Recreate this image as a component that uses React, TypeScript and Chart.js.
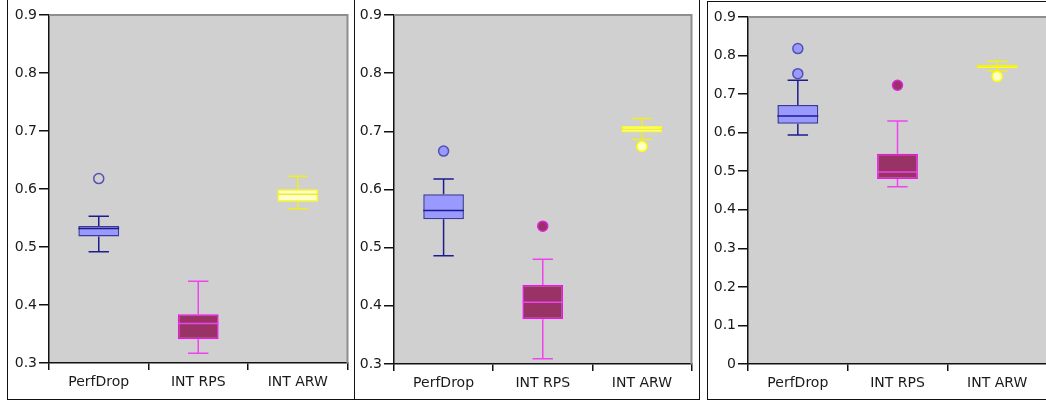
import React, { useEffect, useRef } from 'react';
import { Chart, registerables } from 'chart.js';

Chart.register(...registerables);

// ---------- data ----------
const categories = ['PerfDrop', 'INT RPS', 'INT ARW'];

// panel 1
const p1Min = [0.492, 0.317, 0.566];
const p1Q1 = [0.518, 0.341, 0.578];
const p1Median = [0.532, 0.368, 0.591];
const p1Q3 = [0.536, 0.384, 0.5995];
const p1Max = [0.553, 0.441, 0.622];
const p1Outliers = [[0.618], [], []];

// panel 2
const p2Min = [0.486, 0.309, 0.686];
const p2Q1 = [0.549, 0.377, 0.698];
const p2Median = [0.564, 0.406, 0.7035];
const p2Q3 = [0.592, 0.436, 0.709];
const p2Max = [0.618, 0.48, 0.722];
const p2Outliers = [[0.666], [0.537], [0.674]];

// panel 3
const p3Min = [0.594, 0.46, 0.76];
const p3Q1 = [0.623, 0.48, 0.768];
const p3Median = [0.643, 0.498, 0.773];
const p3Q3 = [0.672, 0.545, 0.776];
const p3Max = [0.736, 0.63, 0.785];
const p3Outliers = [[0.818, 0.753], [0.723], [0.746]];

// y ticks
const yTicksA = [0.3, 0.4, 0.5, 0.6, 0.7, 0.8, 0.9];
const yLabelsA = ['0.3', '0.4', '0.5', '0.6', '0.7', '0.8', '0.9'];
const yTicksB = [0, 0.1, 0.2, 0.3, 0.4, 0.5, 0.6, 0.7, 0.8, 0.9];
const yLabelsB = ['0', '0.1', '0.2', '0.3', '0.4', '0.5', '0.6', '0.7', '0.8', '0.9'];

// ---------- styles ----------
const boxFills = ['#9999ff', '#993366', '#ffffcc'];
const boxBorders = ['#3a3a9c', '#ee11ee', '#ffff00'];
const whiskerColors = ['#1c1c8c', '#ee44ee', '#eeee22'];
const outlierFills = ['#9999ff', '#993366', '#ffffcc'];
const outlierStrokes = ['#5252b0', '#e020e0', '#ffff00'];
const FONT = { family: '"DejaVu Sans", sans-serif', size: 14 };
const AXIS = '#111111';
const TEXT = '#1a1a1a';

type PanelCfg = {
  frame: { left: number; top: number; width: number; height: number };
  canvas: { left: number; top: number; width: number; height: number };
  plot: { left: number; top: number; right: number; bottom: number };
  min: number[];
  q1: number[];
  med: number[];
  q3: number[];
  max: number[];
  outliers: number[][];
  yMin: number;
  yMax: number;
  yTicks: number[];
  yLabels: string[];
  hollow: boolean;
};

const panels: PanelCfg[] = [
  {
    frame: { left: 7, top: -1, width: 348, height: 401 },
    canvas: { left: 8, top: 0, width: 346, height: 399 },
    plot: { left: 49, top: 15, right: 348, bottom: 363 },
    min: p1Min, q1: p1Q1, med: p1Median, q3: p1Q3, max: p1Max, outliers: p1Outliers,
    yMin: 0.3, yMax: 0.9, yTicks: yTicksA, yLabels: yLabelsA, hollow: true,
  },
  {
    frame: { left: 354, top: -1, width: 346, height: 401 },
    canvas: { left: 355, top: 0, width: 343, height: 399 },
    plot: { left: 394, top: 15, right: 693, bottom: 364 },
    min: p2Min, q1: p2Q1, med: p2Median, q3: p2Q3, max: p2Max, outliers: p2Outliers,
    yMin: 0.3, yMax: 0.9, yTicks: yTicksA, yLabels: yLabelsA, hollow: false,
  },
  {
    frame: { left: 707, top: 1, width: 350, height: 399 },
    canvas: { left: 708, top: 2, width: 346, height: 397 },
    plot: { left: 748, top: 17, right: 1047, bottom: 364 },
    min: p3Min, q1: p3Q1, med: p3Median, q3: p3Q3, max: p3Max, outliers: p3Outliers,
    yMin: 0, yMax: 0.9, yTicks: yTicksB, yLabels: yLabelsB, hollow: false,
  },
];

function Panel({ cfg }: { cfg: PanelCfg }) {
  const ref = useRef<HTMLCanvasElement>(null);

  useEffect(() => {
    const c = cfg;
    const yW = c.plot.left - c.canvas.left;
    const xH = c.canvas.top + c.canvas.height - c.plot.bottom;
    const padTop = c.plot.top - c.canvas.top;
    const padRight = c.canvas.left + c.canvas.width - c.plot.right;

    const outlierPoints: { x: string; y: number }[] = [];
    const oFill: string[] = [];
    const oStroke: string[] = [];
    c.outliers.forEach((list, i) => {
      list.forEach((v) => {
        outlierPoints.push({ x: categories[i], y: v });
        oFill.push(c.hollow ? 'rgba(0,0,0,0)' : outlierFills[i]);
        oStroke.push(outlierStrokes[i]);
      });
    });

    const boxPlugin = {
      id: 'boxplotExtras',
      beforeDraw(chart: any) {
        const { ctx, chartArea: a } = chart;
        ctx.save();
        ctx.fillStyle = '#d0d0d0';
        ctx.fillRect(a.left, a.top, a.right - a.left, a.bottom - a.top);
        ctx.restore();
      },
      beforeDatasetsDraw(chart: any) {
        const { ctx } = chart;
        const ys = chart.scales.y;
        const meta = chart.getDatasetMeta(1);
        ctx.save();
        ctx.lineWidth = 1.5;
        c.min.forEach((_, i) => {
          const bar = meta.data[i];
          const x = bar.x;
          const cap = bar.width / 4;
          ctx.strokeStyle = whiskerColors[i];
          ctx.beginPath();
          ctx.moveTo(x, ys.getPixelForValue(c.q3[i]));
          ctx.lineTo(x, ys.getPixelForValue(c.max[i]));
          ctx.moveTo(x - cap, ys.getPixelForValue(c.max[i]));
          ctx.lineTo(x + cap, ys.getPixelForValue(c.max[i]));
          ctx.moveTo(x, ys.getPixelForValue(c.q1[i]));
          ctx.lineTo(x, ys.getPixelForValue(c.min[i]));
          ctx.moveTo(x - cap, ys.getPixelForValue(c.min[i]));
          ctx.lineTo(x + cap, ys.getPixelForValue(c.min[i]));
          ctx.stroke();
        });
        ctx.restore();
      },
      afterDatasetsDraw(chart: any) {
        const { ctx, chartArea: a } = chart;
        const ys = chart.scales.y;
        const meta = chart.getDatasetMeta(1);
        ctx.save();
        ctx.lineWidth = 1.5;
        c.med.forEach((m, i) => {
          const bar = meta.data[i];
          const half = bar.width / 2;
          ctx.strokeStyle = whiskerColors[i];
          ctx.beginPath();
          ctx.moveTo(bar.x - half, ys.getPixelForValue(m));
          ctx.lineTo(bar.x + half, ys.getPixelForValue(m));
          ctx.stroke();
        });
        // top and right frame of plot
        ctx.strokeStyle = '#8e8e8e';
        ctx.lineWidth = 2;
        ctx.beginPath();
        ctx.moveTo(a.left, a.top);
        ctx.lineTo(a.right, a.top);
        ctx.lineTo(a.right, a.bottom);
        ctx.stroke();
        ctx.restore();
      },
    };

    const chart = new Chart(ref.current as HTMLCanvasElement, {
      type: 'bar',
      data: {
        labels: categories,
        datasets: [
          {
            type: 'line',
            data: outlierPoints as any,
            showLine: false,
            pointRadius: 5,
            pointHoverRadius: 5,
            pointBorderWidth: 1.5,
            pointBackgroundColor: oFill,
            pointBorderColor: oStroke,
          } as any,
          {
            type: 'bar',
            data: c.q1.map((q, i) => [q, c.q3[i]]) as any,
            backgroundColor: boxFills,
            borderColor: boxBorders,
            borderWidth: 1.5,
            borderSkipped: false,
            categoryPercentage: 1,
            barPercentage: 0.41,
          } as any,
        ],
      },
      options: {
        animation: false,
        responsive: false,
        devicePixelRatio: 1,
        layout: { padding: { left: 0, top: padTop, right: padRight, bottom: 0 } },
        plugins: { legend: { display: false }, tooltip: { enabled: false } },
        scales: {
          x: {
            type: 'category',
            offset: true,
            grid: {
              offset: true,
              drawOnChartArea: false,
              drawTicks: true,
              tickLength: 7,
              color: AXIS,
              lineWidth: 1.5,
            },
            border: { display: true, color: AXIS, width: 1.5 },
            ticks: { color: TEXT, font: FONT, padding: 4, maxRotation: 0, autoSkip: false },
            afterFit: (s: any) => {
              s.height = xH;
            },
          },
          y: {
            type: 'linear',
            min: c.yMin,
            max: c.yMax,
            afterBuildTicks: (s: any) => {
              s.ticks = c.yTicks.map((v) => ({ value: v }));
            },
            grid: {
              drawOnChartArea: false,
              drawTicks: true,
              tickLength: 10,
              color: AXIS,
              lineWidth: 1.5,
            },
            border: { display: true, color: AXIS, width: 1.5 },
            ticks: {
              color: TEXT,
              font: FONT,
              padding: 2,
              callback: (_v: any, idx: number) => c.yLabels[idx],
            },
            afterFit: (s: any) => {
              s.width = yW;
            },
          },
        },
      } as any,
      plugins: [boxPlugin],
    });
    return () => chart.destroy();
  }, [cfg]);

  return (
    <>
      <div
        style={{
          position: 'absolute',
          left: cfg.frame.left,
          top: cfg.frame.top,
          width: cfg.frame.width,
          height: cfg.frame.height,
          border: '1px solid #111',
          boxSizing: 'border-box',
        }}
      />
      <canvas
        ref={ref}
        width={cfg.canvas.width}
        height={cfg.canvas.height}
        style={{
          position: 'absolute',
          left: cfg.canvas.left,
          top: cfg.canvas.top,
          width: cfg.canvas.width,
          height: cfg.canvas.height,
        }}
      />
    </>
  );
}

export default function App() {
  return (
    <div
      style={{
        position: 'absolute',
        left: 0,
        top: 0,
        width: 1046,
        height: 400,
        overflow: 'hidden',
        background: '#ffffff',
      }}
    >
      {panels.map((p, i) => (
        <Panel key={i} cfg={p} />
      ))}
    </div>
  );
}
